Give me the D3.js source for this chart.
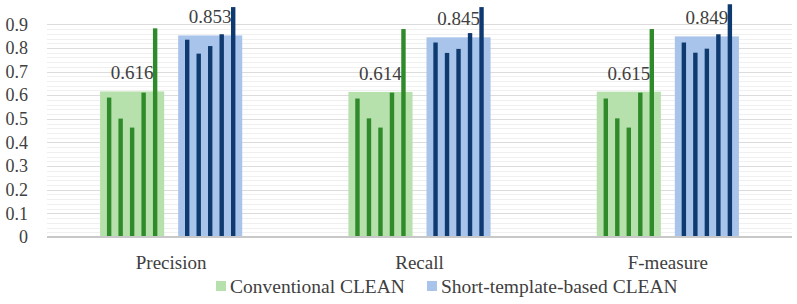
<!DOCTYPE html>
<html>
<head>
<meta charset="utf-8">
<script src="https://cdn.jsdelivr.net/npm/d3@7"></script>
<style>
  body { margin: 0; background: #fff; }
  svg { display: block; }
  svg text { font-family: "Liberation Serif", "Times New Roman", "DejaVu Serif", serif; }
</style>
</head>
<body>
<svg id="chart" width="797" height="304"></svg>
<script>
// categories and series
const categories = ["Precision", "Recall", "F-measure"];
const seriesNames = ["Conventional CLEAN", "Short-template-based CLEAN"];

// main (average) bars
const conventional = [0.616, 0.614, 0.615];
const shortTemplate = [0.853, 0.845, 0.849];

// thin bars inside each main bar (5 runs each)
const conventionalRuns = [
    [0.590, 0.501, 0.463, 0.611, 0.883],
    [0.586, 0.502, 0.463, 0.611, 0.880],
    [0.586, 0.502, 0.463, 0.611, 0.880]
];
const shortTemplateRuns = [
    [0.835, 0.776, 0.808, 0.858, 0.973],
    [0.823, 0.779, 0.796, 0.863, 0.973],
    [0.823, 0.780, 0.797, 0.858, 0.985]
];

const yTicks = [0, 0.1, 0.2, 0.3, 0.4, 0.5, 0.6, 0.7, 0.8, 0.9];

const svg = d3.select("#chart");
const margin = { top: 0.7, right: 5, bottom: 67, left: 47 };
const width = 797;
const height = 304;

const x0 = d3.scaleBand()
    .domain(categories)
    .range([margin.left, width - margin.right]);

const x1 = d3.scaleBand()
    .domain(seriesNames)
    .range([0, x0.bandwidth()])
    .paddingInner(0.179)
    .paddingOuter(0.68);

const y = d3.scaleLinear()
    .domain([0, 1])
    .range([height - margin.bottom, margin.top]);

const fillColor = d3.scaleOrdinal().domain(seriesNames).range(["#b6e0ac", "#a9c4eb"]);
const runColor = d3.scaleOrdinal().domain(seriesNames).range(["#2f8a2a", "#0f3a70"]);

// minor gridlines every 0.02
const minorTicks = d3.range(0, 46).map(i => i * 0.02).filter(v => Math.abs(v * 10 - Math.round(v * 10)) > 1e-6);
svg.append("g")
    .selectAll("line")
    .data(minorTicks)
    .join("line")
    .attr("x1", margin.left)
    .attr("x2", width - margin.right)
    .attr("y1", d => Math.round(y(d)) + 0.5)
    .attr("y2", d => Math.round(y(d)) + 0.5)
    .attr("stroke", "#f0f0f0")
    .attr("stroke-width", 1);

// major gridlines
svg.append("g")
    .selectAll("line")
    .data(yTicks.slice(1))
    .join("line")
    .attr("x1", margin.left)
    .attr("x2", width - margin.right)
    .attr("y1", d => Math.round(y(d)) + 0.5)
    .attr("y2", d => Math.round(y(d)) + 0.5)
    .attr("stroke", "#dcdcdc")
    .attr("stroke-width", 1);

// y axis labels
const yAxis = svg.append("g")
    .attr("transform", "translate(28,0)")
    .call(d3.axisLeft(y).tickValues(yTicks).tickSize(0).tickPadding(0).tickFormat(d => d === 0 ? "0" : d3.format(".1f")(d)));
yAxis.select(".domain").remove();
yAxis.selectAll("text")
    .attr("fill", "#404040")
    .style("font-size", "18px");

// build data rows
const rows = [];
categories.forEach((c, i) => {
    rows.push({ cat: c, series: seriesNames[0], value: conventional[i], runs: conventionalRuns[i] });
    rows.push({ cat: c, series: seriesNames[1], value: shortTemplate[i], runs: shortTemplateRuns[i] });
});

// main bars
svg.append("g")
    .selectAll("rect")
    .data(rows)
    .join("rect")
    .attr("x", d => x0(d.cat) + x1(d.series))
    .attr("y", d => y(d.value))
    .attr("width", x1.bandwidth())
    .attr("height", d => y(0) - y(d.value))
    .attr("fill", d => fillColor(d.series));

// thin bars
const runIdx = d3.scaleBand()
    .domain(d3.range(5))
    .range([-28.75, 28.75]);

const runGroups = svg.append("g")
    .selectAll("g")
    .data(rows)
    .join("g")
    .attr("transform", d => `translate(${x0(d.cat) + x1(d.series) + x1.bandwidth() / 2},0)`);

runGroups.selectAll("rect")
    .data(d => d.runs.map((v, i) => ({ v, i, series: d.series })))
    .join("rect")
    .attr("x", d => runIdx(d.i) + runIdx.bandwidth() / 2 - 2.2)
    .attr("y", d => y(d.v))
    .attr("width", 4.4)
    .attr("height", d => y(0) - y(d.v))
    .attr("fill", d => runColor(d.series));

// value labels
svg.append("g")
    .selectAll("text")
    .data(rows)
    .join("text")
    .attr("x", d => x0(d.cat) + x1(d.series) + x1.bandwidth() / 2)
    .attr("y", d => y(d.value) - 12)
    .attr("text-anchor", "middle")
    .attr("fill", "#404040")
    .style("font-size", "19px")
    .text(d => d3.format(".3f")(d.value));

// x axis line
svg.append("line")
    .attr("x1", margin.left)
    .attr("x2", width - margin.right)
    .attr("y1", y(0))
    .attr("y2", y(0))
    .attr("stroke", "#c8c8c8")
    .attr("stroke-width", 2);

// category labels
svg.append("g")
    .selectAll("text")
    .data(categories)
    .join("text")
    .attr("x", d => x0(d) + x0.bandwidth() / 2)
    .attr("y", 269)
    .attr("text-anchor", "middle")
    .attr("fill", "#404040")
    .style("font-size", "19px")
    .text(d => d);

// legend
const legendX = [216, 427];
const legend = svg.append("g")
    .selectAll("g")
    .data(seriesNames)
    .join("g")
    .attr("transform", (d, i) => `translate(${legendX[i]},0)`);

legend.append("rect")
    .attr("x", 0)
    .attr("y", 281)
    .attr("width", 10)
    .attr("height", 10)
    .attr("fill", d => fillColor(d));

legend.append("text")
    .attr("x", 14)
    .attr("y", 293)
    .attr("fill", "#404040")
    .style("font-size", "19.5px")
    .text(d => d);
</script>
</body>
</html>
